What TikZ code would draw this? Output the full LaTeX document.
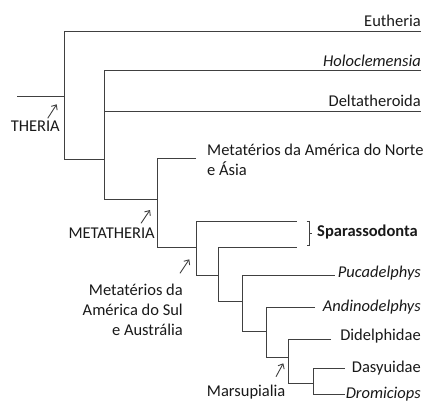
\documentclass[tikz,border=0pt]{standalone}
\usepackage{fontspec}
\setmainfont{Carlito}
\usetikzlibrary{arrows.meta}
\definecolor{linecol}{RGB}{64,64,64}
\definecolor{txtcol}{RGB}{25,25,25}
\begin{document}
\begin{tikzpicture}[x=1pt,y=-1pt,
  branch/.style={draw=linecol, line width=1.3pt},
  lbl/.style={inner sep=0pt, font=\fontsize{16.5}{20}\selectfont, text=txtcol},
  itlbl/.style={lbl, font=\fontsize{16.5}{20}\selectfont\itshape},
  bflbl/.style={lbl, font=\fontsize{16.5}{20}\selectfont\bfseries},
  pointer/.style={draw=linecol, line width=0.9pt, -{Straight Barb[length=4pt,width=7pt]}},
  bracketline/.style={draw=linecol, line width=0.9pt},
]
\useasboundingbox (0,0) rectangle (425,403);

% internal nodes (attachment points)
\coordinate (root) at (17,96.5);
\coordinate (A) at (64.5,96.5);
\coordinate (B) at (104.5,159.5);
\coordinate (C) at (157.5,199.5);
\coordinate (D) at (196.5,247.5);
\coordinate (E) at (218.5,275.5);
\coordinate (F) at (242.5,301.5);
\coordinate (G) at (266.5,331.5);
\coordinate (H) at (288.5,357.5);
\coordinate (I) at (313.5,383.5);

% leaf line ends
\coordinate (eu) at (421,31.5);
\coordinate (holo) at (421,70.5);
\coordinate (delta) at (421,111.5);
\coordinate (mna) at (196,158.5);
\coordinate (sp1) at (296.5,221.5);
\coordinate (sp2) at (296.5,247.5);
\coordinate (puca) at (334.5,275.5);
\coordinate (andi) at (315,307.5);
\coordinate (didel) at (331,339.5);
\coordinate (dasy) at (344.5,368.5);
\coordinate (drom) at (345,394.5);

% branches
\draw[branch] (root) -- (A);
\draw[branch] (eu) -| (A) |- (B);
\draw[branch] (holo) -| (B) |- (C);
\draw[branch] (B) |- (delta);
\draw[branch] (mna) -| (C) |- (D);
\draw[branch] (sp1) -| (D) |- (E);
\draw[branch] (sp2) -| (E) |- (F);
\draw[branch] (puca) -| (F) |- (G);
\draw[branch] (andi) -| (G) |- (H);
\draw[branch] (didel) -| (H) |- (I);
\draw[branch] (dasy) -| (I) |- (drom);

% tip labels
\node[lbl, anchor=base east] (eutheria) at (421,27) {Eutheria};
\node[itlbl, anchor=base east] (holoclemensia) at (421,66.5) {Holoclemensia};
\node[lbl, anchor=base east] (deltatheroida) at (421,107) {Deltatheroida};
\node[lbl, anchor=base west, align=left] (metna) at (207,176) {Metatérios da América do Norte\\e Ásia};
\node[bflbl, anchor=base west] (spar) at (317,236.5) {Sparassodonta};
\node[itlbl, anchor=base east] (pucadelphys) at (421,277.3) {Pucadelphys};
\node[itlbl, anchor=base east] (andinodelphys) at (421,311) {Andinodelphys};
\node[lbl, anchor=base east] (didelphidae) at (421,340) {Didelphidae};
\node[lbl, anchor=base east] (dasyuidae) at (421,372) {Dasyuidae};
\node[itlbl, anchor=base east] (dromiciops) at (421,398.5) {Dromiciops};

% bracket for Sparassodonta
\draw[bracketline] (306.5,221.5) -- (309.5,221.5) -- (309.5,245.5) -- (306.5,245.5);
\draw[bracketline] (309.5,233.5) -- (312,233.5);

% clade labels
\node[lbl, anchor=base east] (theria) at (60,131.7) {THERIA};
\node[lbl, anchor=base east] (metatheria) at (155,238) {METATHERIA};
\node[lbl, anchor=base east, align=right] (msul) at (183,335) {Metatérios da\\América do Sul\\e Austrália};
\node[lbl, anchor=base west] (marsupialia) at (206.7,396) {Marsupialia};

% pointers
\coordinate (t1) at (47.7,118.3); \coordinate (h1) at (56.7,104.3);
\coordinate (t2) at (141,223.3);  \coordinate (h2) at (150,210);
\coordinate (t3) at (180,273.3);  \coordinate (h3) at (189.3,259.3);
\coordinate (t4) at (276,376.7);  \coordinate (h4) at (283.3,363.3);
\draw[pointer] (t1) -- (h1);
\draw[pointer] (t2) -- (h2);
\draw[pointer] (t3) -- (h3);
\draw[pointer] (t4) -- (h4);
\end{tikzpicture}
\end{document}
